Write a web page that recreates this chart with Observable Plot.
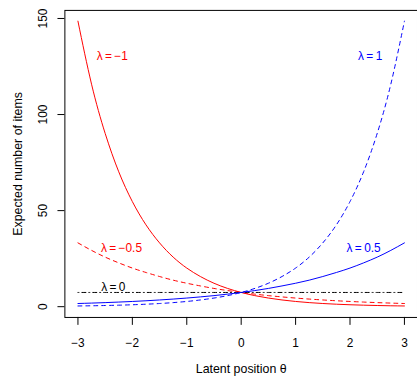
<!DOCTYPE html>
<html>
<head>
<meta charset="utf-8">
<script src="https://cdn.jsdelivr.net/npm/d3@7"></script>
<script src="https://cdn.jsdelivr.net/npm/@observablehq/plot@0.6"></script>
<style>
  html, body { margin: 0; padding: 0; overflow: hidden; background: white; }
  #chart { width: 417px; height: 377px; overflow: hidden; }
</style>
</head>
<body>
<div id="chart"></div>
<script>
// Latent position θ (x values)
const theta = [-3, -2.75, -2.5, -2.25, -2, -1.75, -1.5, -1.25, -1, -0.75, -0.5, -0.25, 0,
               0.25, 0.5, 0.75, 1, 1.25, 1.5, 1.75, 2, 2.25, 2.5, 2.75, 3];

// Expected number of items
const lambdaMinus1 = [148.6, 115.8, 90.2, 70.2, 54.7, 42.6, 33.2, 25.8, 20.1, 15.7, 12.2, 9.5, 7.4,
                      5.76, 4.49, 3.50, 2.72, 2.12, 1.65, 1.29, 1.00, 0.78, 0.61, 0.47, 0.37];
const lambdaMinus05 = [33.2, 29.3, 25.8, 22.8, 20.1, 17.8, 15.7, 13.8, 12.2, 10.8, 9.5, 8.4, 7.4,
                       6.53, 5.76, 5.09, 4.49, 3.96, 3.50, 3.08, 2.72, 2.40, 2.12, 1.87, 1.65];
const lambda0 = [7.4, 7.4, 7.4, 7.4, 7.4, 7.4, 7.4, 7.4, 7.4, 7.4, 7.4, 7.4, 7.4,
                 7.4, 7.4, 7.4, 7.4, 7.4, 7.4, 7.4, 7.4, 7.4, 7.4, 7.4, 7.4];
const lambda05 = [1.65, 1.87, 2.12, 2.40, 2.72, 3.08, 3.50, 3.96, 4.49, 5.09, 5.76, 6.53, 7.4,
                  8.39, 9.5, 10.8, 12.2, 13.8, 15.7, 17.8, 20.1, 22.8, 25.8, 29.3, 33.2];
const lambda1 = [0.37, 0.47, 0.61, 0.78, 1.00, 1.29, 1.65, 2.12, 2.72, 3.50, 4.49, 5.76, 7.4,
                 9.5, 12.2, 15.7, 20.1, 25.8, 33.2, 42.6, 54.7, 70.2, 90.2, 115.8, 148.6];

// Curve labels
const labelText = ["λ\u2009=\u2009−1", "λ\u2009=\u2009−0.5", "λ\u2009=\u20090", "λ\u2009=\u20090.5", "λ\u2009=\u20091"];
const labelX = [-2.37, -2.2, -2.35, 2.25, 2.37];
const labelY = [130.4, 30.4, 10.3, 30.4, 130.4];

// Ticks
const xTicks = [-3, -2, -1, 0, 1, 2, 3];
const yTicks = [0, 50, 100, 150];

const series = [
  {vals: lambdaMinus1, color: "#FF0000", dash: null},
  {vals: lambdaMinus05, color: "#FF0000", dash: "4,4"},
  {vals: lambda0, color: "#000000", dash: "1,3,4,3"},
  {vals: lambda05, color: "#0000FF", dash: null},
  {vals: lambda1, color: "#0000FF", dash: "4,4"}
];
const labelColors = ["#FF0000", "#FF0000", "#000000", "#0000FF", "#0000FF"];

const lineMarks = series.map(s => {
  const data = theta.map((t, i) => ({t, v: s.vals[i]}));
  const opts = {x: "t", y: "v", stroke: s.color, strokeWidth: 1, curve: "natural"};
  if (s.dash) opts.strokeDasharray = s.dash;
  return Plot.line(data, opts);
});

const labels = labelText.map((txt, i) => ({txt, x: labelX[i], y: labelY[i], c: labelColors[i]}));

const chart = Plot.plot({
  width: 421,
  height: 377,
  marginLeft: 65,
  marginRight: 0,
  marginTop: 10,
  marginBottom: 57,
  style: {fontFamily: "'Liberation Sans', Arial, Helvetica, sans-serif", fontSize: "12px", background: "white", overflow: "visible"},
  x: {domain: [-3.24, 3.24]},
  y: {domain: [-5.6, 154.2]},
  marks: [
    ...lineMarks,
    Plot.text(labels, {x: "x", y: "y", text: "txt", fill: "c", fontSize: 12, textAnchor: "middle", lineAnchor: "middle"}),
    Plot.axisX({ticks: xTicks, tickSize: 8, tickPadding: 13, fontSize: 12, label: null, tickFormat: d => d < 0 ? "−" + Math.abs(d) : String(d)}),
    Plot.axisY({ticks: yTicks, tickSize: 7, tickFormat: () => "", label: null}),
    Plot.text(yTicks, {y: d => d, frameAnchor: "left", dx: -22, rotate: -90, text: d => String(d), fontSize: 12, textAnchor: "middle", lineAnchor: "middle"}),
    Plot.text(["Latent position θ"], {frameAnchor: "bottom", dy: 56, text: d => d, fontSize: 12.5, textAnchor: "middle", lineAnchor: "bottom"}),
    Plot.text(["Expected number of items"], {frameAnchor: "left", dx: -47, rotate: -90, text: d => d, fontSize: 12.5, textAnchor: "middle", lineAnchor: "middle"}),
    Plot.frame({stroke: "black", strokeWidth: 1})
  ]
});
document.getElementById("chart").appendChild(chart);
</script>
</body>
</html>
